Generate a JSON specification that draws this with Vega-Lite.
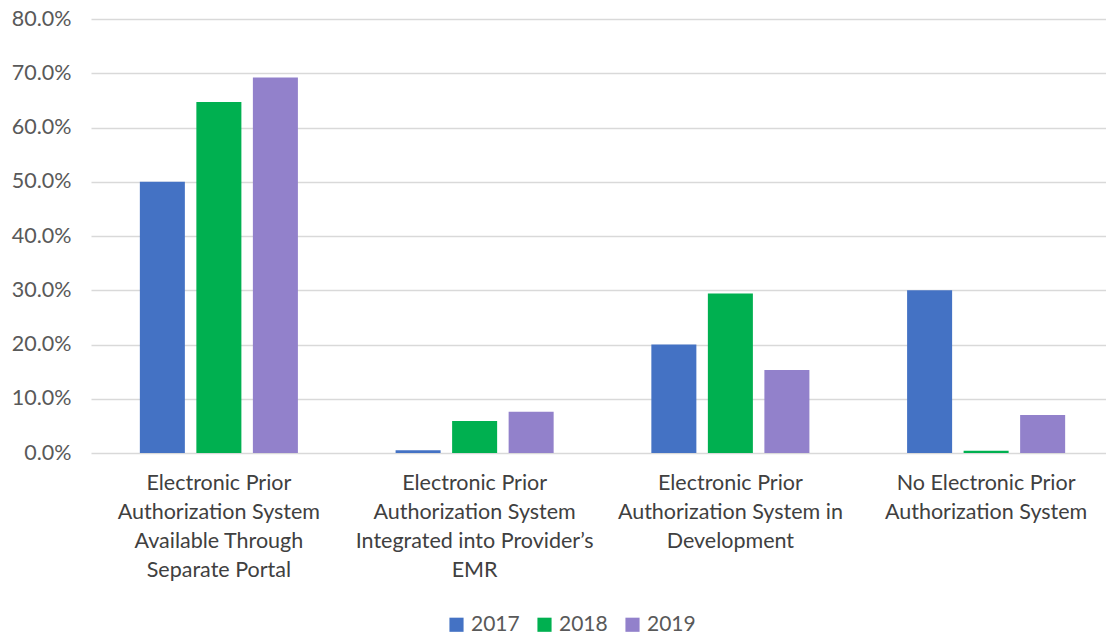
{
  "$schema": "https://vega.github.io/schema/vega-lite/v6.json",
  "width": 1023,
  "height": 434,
  "autosize": {"type": "none"},
  "padding": {"left": 91, "top": 19, "right": 0, "bottom": 182},
  "background": "white",
  "config": {"view": {"stroke": null}, "font": "Lato"},
  "data": {
    "values": [
      {"cat": "Electronic Prior|Authorization System|Available Through|Separate Portal", "order": 1, "year": "2017", "value": 0.500},
      {"cat": "Electronic Prior|Authorization System|Available Through|Separate Portal", "order": 1, "year": "2018", "value": 0.647},
      {"cat": "Electronic Prior|Authorization System|Available Through|Separate Portal", "order": 1, "year": "2019", "value": 0.692},
      {"cat": "Electronic Prior|Authorization System|Integrated into Provider’s|EMR", "order": 2, "year": "2017", "value": 0.005},
      {"cat": "Electronic Prior|Authorization System|Integrated into Provider’s|EMR", "order": 2, "year": "2018", "value": 0.059},
      {"cat": "Electronic Prior|Authorization System|Integrated into Provider’s|EMR", "order": 2, "year": "2019", "value": 0.076},
      {"cat": "Electronic Prior|Authorization System in|Development", "order": 3, "year": "2017", "value": 0.200},
      {"cat": "Electronic Prior|Authorization System in|Development", "order": 3, "year": "2018", "value": 0.294},
      {"cat": "Electronic Prior|Authorization System in|Development", "order": 3, "year": "2019", "value": 0.153},
      {"cat": "No Electronic Prior|Authorization System", "order": 4, "year": "2017", "value": 0.300},
      {"cat": "No Electronic Prior|Authorization System", "order": 4, "year": "2018", "value": 0.004},
      {"cat": "No Electronic Prior|Authorization System", "order": 4, "year": "2019", "value": 0.070}
    ]
  },
  "mark": {"type": "bar"},
  "encoding": {
    "x": {
      "field": "cat",
      "type": "nominal",
      "sort": {"field": "order"},
      "scale": {"paddingInner": 0.382, "paddingOuter": 0.191},
      "axis": {
        "title": null,
        "labelAngle": 0,
        "labelExpr": "split(datum.label, '|')",
        "labelFontSize": 21.5,
        "labelLineHeight": 29,
        "labelColor": "#404040",
        "labelPadding": 19,
        "labelBaseline": "top",
        "labelOverlap": false,
        "ticks": false,
        "domain": false,
        "labelLimit": 300
      }
    },
    "xOffset": {
      "field": "year",
      "type": "nominal",
      "scale": {"paddingInner": 0.2035, "paddingOuter": 0}
    },
    "y": {
      "field": "value",
      "type": "quantitative",
      "scale": {"domain": [0, 0.8], "nice": false},
      "axis": {
        "title": null,
        "format": ".1%",
        "values": [0, 0.1, 0.2, 0.3, 0.4, 0.5, 0.6, 0.7, 0.8],
        "labelOverlap": false,
        "labelFontSize": 21.5,
        "labelColor": "#595959",
        "labelPadding": 20,
        "ticks": false,
        "domain": false,
        "gridColor": "#D9D9D9",
        "gridWidth": 1.5
      }
    },
    "color": {
      "field": "year",
      "type": "nominal",
      "scale": {"domain": ["2017", "2018", "2019"], "range": ["#4472C4", "#00B050", "#9281CB"]},
      "legend": {
        "title": null,
        "orient": "none",
        "direction": "horizontal",
        "legendX": 355,
        "legendY": 595,
        "symbolType": "square",
        "symbolSize": 200,
        "symbolStrokeWidth": 0,
        "labelFontSize": 21,
        "labelColor": "#595959",
        "columnPadding": 14,
        "labelOffset": 4
      }
    }
  }
}
